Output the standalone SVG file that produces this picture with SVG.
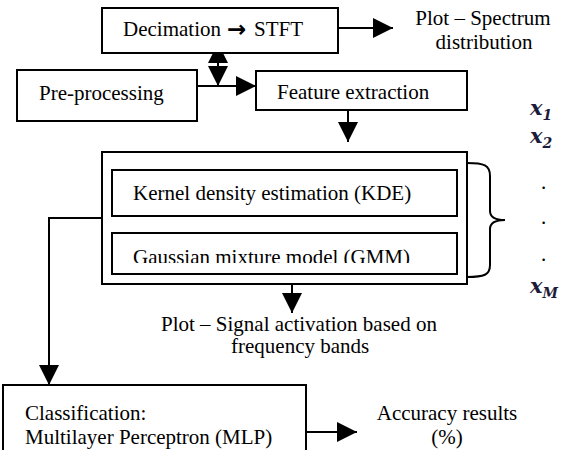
<svg xmlns="http://www.w3.org/2000/svg" width="564" height="450" viewBox="0 0 564 450">
  <style>
    .box { fill: #fff; stroke: #000; stroke-width: 2; }
    .lbl { font-family: "Liberation Serif", "Times New Roman", serif; font-size: 21px; fill: #000; }
    .mid { text-anchor: middle; }
    .sym { font-family: "DejaVu Sans", sans-serif; font-weight: bold; font-size: 23px; }
    .wire { fill: none; stroke: #000; stroke-width: 2; }
    .head { fill: #000; stroke: none; }
    .var { font-family: "DejaVu Serif", serif; font-style: italic; font-weight: bold; font-size: 21px; fill: #1c1c3a; }
    .sub { font-family: "DejaVu Serif", serif; font-weight: bold; font-size: 14px; fill: #1c1c3a; }
  </style>
  <defs>
    <marker id="arrow" markerUnits="userSpaceOnUse" markerWidth="20" markerHeight="20" refX="20" refY="10" orient="auto">
      <path d="M0,0 L20,10 L0,20 Z" fill="#000"/>
    </marker>
    <clipPath id="gmmClip">
      <rect x="112" y="233" width="345" height="30"/>
    </clipPath>
  </defs>

  <rect width="564" height="450" fill="#fff"/>

  <!-- connectors -->
  <g id="connectors">
    <line class="wire" x1="338" y1="28" x2="393" y2="28" marker-end="url(#arrow)"/>
    <line class="wire" x1="197" y1="86" x2="256" y2="86" marker-end="url(#arrow)"/>
    <line class="wire" x1="218" y1="53" x2="218" y2="86"/>
    <polygon class="head" points="218,43 228,63 208,63"/>
    <polygon class="head" points="208,66 228,66 218,86"/>
    <line class="wire" x1="348" y1="110" x2="348" y2="142" marker-end="url(#arrow)"/>
    <line class="wire" x1="292" y1="284" x2="292" y2="313" marker-end="url(#arrow)"/>
    <path class="wire" d="M102,218 H49 V385" marker-end="url(#arrow)"/>
    <line class="wire" x1="306" y1="432" x2="357" y2="432" marker-end="url(#arrow)"/>
    <!-- brace grouping the two estimators -->
    <path class="wire" d="M467,163 C484,163 490,165 490,176 V211 C490,217 496,220 505,220 C496,220 490,223 490,229 V265 C490,275 484,277 467,277"/>
  </g>

  <g id="decimation">
    <rect class="box" x="102" y="8" width="236" height="45"/>
    <text class="lbl" x="123" y="36">Decimation<tspan class="sym" x="227" y="37">→</tspan><tspan x="254" y="36">STFT</tspan></text>
  </g>

  <g id="spectrum-plot">
    <text class="lbl mid" x="483" y="25">Plot – Spectrum</text>
    <text class="lbl mid" x="484" y="49">distribution</text>
  </g>

  <g id="preprocessing">
    <rect class="box" x="17" y="70" width="180" height="51"/>
    <text class="lbl" x="39" y="100">Pre-processing</text>
  </g>

  <g id="feature-extraction">
    <rect class="box" x="256" y="71" width="211" height="39"/>
    <text class="lbl" x="277" y="99">Feature extraction</text>
  </g>

  <g id="estimators">
    <rect class="box" x="102" y="152" width="365" height="132"/>
    <g id="kde">
      <rect class="box" x="112" y="170" width="345" height="46"/>
      <text class="lbl" x="133" y="200">Kernel density estimation (KDE)</text>
    </g>
    <g id="gmm">
      <rect class="box" x="112" y="233" width="345" height="41"/>
      <text class="lbl" x="133" y="264" clip-path="url(#gmmClip)">Gaussian mixture model (GMM)</text>
    </g>
  </g>

  <g id="features">
    <text class="var" x="530" y="115">x<tspan class="sub" dy="5">1</tspan></text>
    <text class="var" x="530" y="143">x<tspan class="sub" dy="5">2</tspan></text>
    <text class="lbl" x="541" y="189">.</text>
    <text class="lbl" x="541" y="224">.</text>
    <text class="lbl" x="541" y="261">.</text>
    <text class="var" x="530" y="293">x<tspan class="sub" font-style="italic" dy="5">M</tspan></text>
  </g>

  <g id="activation-plot">
    <text class="lbl" x="161" y="331">Plot – Signal activation based on</text>
    <text class="lbl" x="231" y="353">frequency bands</text>
  </g>

  <g id="classification">
    <rect class="box" x="3" y="385" width="303" height="70"/>
    <text class="lbl" x="25" y="420">Classification:</text>
    <text class="lbl" x="25" y="444">Multilayer Perceptron (MLP)</text>
  </g>

  <g id="accuracy">
    <text class="lbl mid" x="447" y="420">Accuracy results</text>
    <text class="lbl mid" x="447" y="444">(%)</text>
  </g>
</svg>
